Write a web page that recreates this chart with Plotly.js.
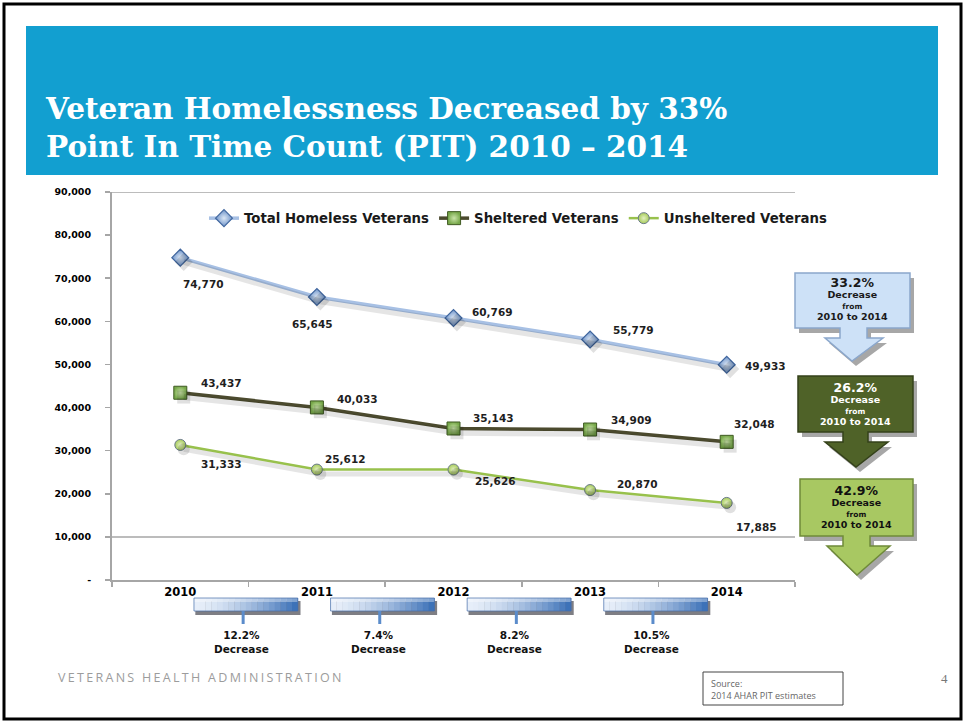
<!DOCTYPE html>
<html>
<head>
<meta charset="utf-8">
<script src="https://cdn.plot.ly/plotly-3.0.1.min.js"></script>
<style>
  html, body { margin: 0; padding: 0; background: #ffffff; }
  #chart { width: 965px; height: 721px; }
</style>
</head>
<body>
<div id="chart"></div>
<script>
// ---------- data ----------
const years = ['2010', '2011', '2012', '2013', '2014'];
const totalVets = [74770, 65645, 60769, 55779, 49933];
const shelteredVets = [43437, 40033, 35143, 34909, 32048];
const unshelteredVets = [31333, 25612, 25626, 20870, 17885];
const seriesNames = ['Total Homeless Veterans', 'Sheltered Veterans', 'Unsheltered Veterans'];
const yTickVals = [0, 10000, 20000, 30000, 40000, 50000, 60000, 70000, 80000, 90000];
const yTickText = ['-', '10,000', '20,000', '30,000', '40,000', '50,000', '60,000', '70,000', '80,000', '90,000'];
const yearChangeLabels = ['12.2%', '7.4%', '8.2%', '10.5%'];
const calloutPct = ['33.2%', '26.2%', '42.9%'];
const titleText = 'Veteran Homelessness Decreased by 33%<br>Point In Time Count (PIT) 2010 \u2013 2014';

// ---------- styling / layout helpers ----------
const W = 965, H = 721;
const M = { l: 112, r: 170, t: 192, b: 141 };
const PW = W - M.l - M.r, PH = H - M.t - M.b;
const px = v => (v - M.l) / PW;          // pixel -> paper x
const py = v => (H - M.b - v) / PH;      // pixel -> paper y
const BOLD = 'DejaVu Sans, Verdana, sans-serif';

// label offsets [xshift, yshift] per point (style only)
const totalShift = [[23, -26], [-4, -27], [39, 6], [43, 10], [39, -1]];
const shelShift = [[41, 10], [41, 8], [40, 10], [41, 10], [28, 18]];
const unshShift = [[41, -19], [29, 11], [42, -11], [47, 6], [30, -24]];

const C = {
  total: '#a7c0e4', totalMk: '#6d93c9', totalMkLine: '#40669e',
  shel: '#4b4a2e', shelMk: '#77a84a', shelMkLine: '#3f5a22',
  unsh: '#98c14c', unshMk: '#a7cb5a', unshMkLine: '#6b7b8a'
};

const fmt = v => v.toLocaleString('en-US');

// ---------- traces ----------
const shadow = (ys, w, sym, sz) => ({
  x: years, y: ys, xaxis: 'x2', yaxis: 'y2', type: 'scatter', mode: 'lines+markers',
  line: { color: 'rgba(0,0,0,0.10)', width: w },
  marker: { symbol: sym, size: sz, color: 'rgba(0,0,0,0.12)' },
  showlegend: false, hoverinfo: 'skip'
});

const traces = [
  shadow(totalVets, 6, 'diamond', 14),
  shadow(shelteredVets, 6, 'square', 13),
  shadow(unshelteredVets, 5, 'circle', 12),
  {
    x: years, y: totalVets, name: seriesNames[0], type: 'scatter', mode: 'lines+markers',
    line: { color: C.total, width: 3.5 },
    marker: { symbol: 'diamond', size: 13, color: C.totalMk,
      gradient: { type: 'radial', color: '#dbe6f4' },
      line: { color: C.totalMkLine, width: 1.2 } }
  },
  {
    x: years, y: shelteredVets, name: seriesNames[1], type: 'scatter', mode: 'lines+markers',
    line: { color: C.shel, width: 3.5 },
    marker: { symbol: 'square', size: 13, color: C.shelMk,
      gradient: { type: 'radial', color: '#c9e3a8' },
      line: { color: C.shelMkLine, width: 1 } }
  },
  {
    x: years, y: unshelteredVets, name: seriesNames[2], type: 'scatter', mode: 'lines+markers',
    line: { color: C.unsh, width: 2.5 },
    marker: { symbol: 'circle', size: 11, color: C.unshMk,
      gradient: { type: 'radial', color: '#e2f0c2' },
      line: { color: C.unshMkLine, width: 1 } }
  }
];

// ---------- annotations ----------
const annotations = [];
const labelFont = { family: BOLD, size: 10.5, color: '#1e1e1e', weight: 'bold' };
function addLabels(ys, shifts) {
  ys.forEach((v, i) => annotations.push({
    x: i, y: v, xref: 'x', yref: 'y', text: '<b>' + fmt(v) + '</b>', showarrow: false,
    xanchor: 'center', yanchor: 'middle',
    xshift: shifts[i][0], yshift: shifts[i][1], font: labelFont
  }));
}
addLabels(totalVets, totalShift);
addLabels(shelteredVets, shelShift);
addLabels(unshelteredVets, unshShift);

function note(x, y, text, font, xanchor) {
  annotations.push({ x: x, y: y, xref: 'paper', yref: 'paper', text: text, showarrow: false,
    xanchor: xanchor || 'center', yanchor: 'middle', font: font });
}

// ---------- shapes ----------
const shapes = [];

// outer frame
shapes.push({ type: 'rect', xref: 'paper', yref: 'paper', x0: px(4), x1: px(961), y0: py(4), y1: py(719),
  line: { color: '#000000', width: 3 }, fillcolor: 'rgba(0,0,0,0)', layer: 'below' });
// banner
shapes.push({ type: 'rect', xref: 'paper', yref: 'paper', x0: px(26), x1: px(938), y0: py(26), y1: py(175),
  line: { width: 0 }, fillcolor: '#129fd0', layer: 'below' });

// gridlines at 10,000 and 90,000 (as in the original)
[10000, 90000].forEach(v => shapes.push({ type: 'line', xref: 'paper', yref: 'y', x0: 0, x1: 1, y0: v, y1: v,
  line: { color: '#a6a6a6', width: 1.5 }, layer: 'below' }));

// year-over-year change bars between categories
function mix(a, b, t) {
  const pa = a.match(/\w\w/g).map(h => parseInt(h, 16)), pb = b.match(/\w\w/g).map(h => parseInt(h, 16));
  return 'rgb(' + pa.map((c, k) => Math.round(c + (pb[k] - c) * t)).join(',') + ')';
}
yearChangeLabels.forEach((lab, i) => {
  const c = i + 0.5 - 0.02, half = 0.38;
  // shadow
  shapes.push({ type: 'rect', xref: 'x', yref: 'paper', x0: c - half + 0.01, x1: c + half + 0.02,
    y0: py(615), y1: py(601), line: { width: 0 }, fillcolor: 'rgba(40,40,50,0.6)' });
  const N = 18;
  for (let k = 0; k < N; k++) {
    const t = k / (N - 1);
    shapes.push({ type: 'rect', xref: 'x', yref: 'paper',
      x0: c - half + 2 * half * k / N, x1: c - half + 2 * half * (k + 1) / N + 0.002,
      y0: py(611), y1: py(598), line: { width: 0 }, fillcolor: mix('e6eef9', '3d72b8', Math.pow(t, 1.5)) });
  }
  // highlight on top
  shapes.push({ type: 'rect', xref: 'x', yref: 'paper', x0: c - half, x1: c + half,
    y0: py(602), y1: py(598), line: { width: 0 }, fillcolor: 'rgba(255,255,255,0.35)' });
  shapes.push({ type: 'rect', xref: 'x', yref: 'paper', x0: c - half, x1: c + half,
    y0: py(611), y1: py(598), line: { color: 'rgba(70,110,170,0.7)', width: 1 }, fillcolor: 'rgba(0,0,0,0)' });
  // stem
  shapes.push({ type: 'line', xref: 'x', yref: 'paper', x0: c - 0.02, x1: c - 0.02, y0: py(611), y1: py(624),
    line: { color: '#5b8ccb', width: 3 } });
  annotations.push({ x: c - 0.03, y: py(642), xref: 'x', yref: 'paper',
    text: '<b>' + lab + '</b><br><b>Decrease</b>', showarrow: false,
    xanchor: 'center', yanchor: 'middle', font: { family: BOLD, size: 10.5, color: '#111' } });
});

// callout arrows on the right
const callouts = [
  { L: 795, R: 910, T: 273, B: 328, NL: 840, NR: 867, NB: 338, HL: 825, HR: 883, TX: 852, TY: 361,
    fill: '#cde1f7', line: '#8ba7cc', text: '#1a1a1a', mid: 298 },
  { L: 798, R: 913, T: 376, B: 432, NL: 843, NR: 868, NB: 442, HL: 825, HR: 888, TX: 856, TY: 467,
    fill: '#4f6228', line: '#34411a', text: '#ffffff', mid: 403 },
  { L: 800, R: 913, T: 479, B: 536, NL: 843, NR: 870, NB: 546, HL: 827, HR: 890, TX: 857, TY: 575,
    fill: '#a8c862', line: '#6f8a3a', text: '#111111', mid: 506 }
];
function calloutPath(c, dx, dy) {
  const pts = [[c.L, c.T], [c.R, c.T], [c.R, c.B], [c.NR, c.B], [c.NR, c.NB], [c.HR, c.NB], [c.TX, c.TY],
    [c.HL, c.NB], [c.NL, c.NB], [c.NL, c.B], [c.L, c.B]];
  return 'M' + pts.map(p => px(p[0] + dx).toFixed(5) + ',' + py(p[1] + dy).toFixed(5)).join(' L') + ' Z';
}
callouts.forEach((c, i) => {
  shapes.push({ type: 'path', xref: 'paper', yref: 'paper', path: calloutPath(c, 4, 5),
    fillcolor: 'rgba(60,60,60,0.45)', line: { width: 0 } });
  shapes.push({ type: 'path', xref: 'paper', yref: 'paper', path: calloutPath(c, 0, 0),
    fillcolor: c.fill, line: { color: c.line, width: 1.5 } });
  const cx = px((c.L + c.R) / 2);
  const txt = '<b><span style="font-size:12.5px">' + calloutPct[i] + '</span></b><br>' +
    '<b><span style="font-size:9.5px">Decrease</span></b><br>' +
    '<b><span style="font-size:7.5px">from</span></b><br>' +
    '<b><span style="font-size:9.5px">2010 to 2014</span></b>';
  note(cx, py(c.mid), txt, { family: BOLD, size: 8.5, color: c.text });
});

// footer
note(px(56), py(677), '<span style="letter-spacing:2.3px">VETERANS HEALTH ADMINISTRATION</span>',
  { family: 'Open Sans, Noto Sans, sans-serif', size: 12.5, color: '#9c9c9c' }, 'left');
shapes.push({ type: 'rect', xref: 'paper', yref: 'paper', x0: px(703), x1: px(843), y0: py(672), y1: py(705),
  line: { color: '#444', width: 1 }, fillcolor: '#ffffff' });
note(px(709), py(689), 'Source:<br>2014 AHAR PIT estimates',
  { family: 'Open Sans, Noto Sans, sans-serif', size: 9, color: '#666' }, 'left');
annotations[annotations.length - 1].align = 'left';
note(px(944), py(678), '4', { family: 'Liberation Serif, serif', size: 13, color: '#777' });

// ---------- layout ----------
const layout = {
  width: W, height: H,
  margin: M,
  paper_bgcolor: '#ffffff', plot_bgcolor: 'rgba(0,0,0,0)',
  title: {
    text: titleText, xref: 'container', yref: 'container', x: 46 / W, xanchor: 'left',
    y: 1 - 119 / H, yanchor: 'middle',
    font: { family: 'DejaVu Serif, serif', size: 29.5, color: '#ffffff', weight: 'bold' }
  },
  showlegend: true,
  legend: {
    orientation: 'h', x: px(204), y: py(203), xanchor: 'left', yanchor: 'top',
    bgcolor: 'rgba(0,0,0,0)', itemwidth: 30, tracegroupgap: 0,
    font: { family: BOLD, size: 13.3, color: '#1a1a1a', weight: 'bold' }
  },
  xaxis: {
    type: 'category', range: [-0.5, 4.5], showline: true, linecolor: '#a6a6a6', linewidth: 2,
    ticks: 'outside', tickson: 'boundaries', ticklen: 5, tickcolor: '#a6a6a6', tickwidth: 1.5,
    showgrid: false, zeroline: false, fixedrange: true,
    tickfont: { family: BOLD, size: 11.5, color: '#000', weight: 'bold' }
  },
  yaxis: {
    range: [0, 90000], tickvals: yTickVals, ticktext: yTickText, showline: true, linecolor: '#a6a6a6', linewidth: 2,
    ticks: 'outside', ticklen: 5, tickcolor: '#a6a6a6', tickwidth: 1.5, ticklabelstandoff: 12,
    showgrid: false, zeroline: false, fixedrange: true,
    tickfont: { family: BOLD, size: 9.5, color: '#000', weight: 'bold' }
  },
  xaxis2: { type: 'category', overlaying: 'x', range: [-0.525, 4.475], visible: false, fixedrange: true },
  yaxis2: { overlaying: 'y', range: [1000, 91000], visible: false, fixedrange: true },
  shapes: shapes,
  annotations: annotations
};

Plotly.newPlot('chart', traces, layout, { displayModeBar: false, staticPlot: true });
</script>
</body>
</html>
